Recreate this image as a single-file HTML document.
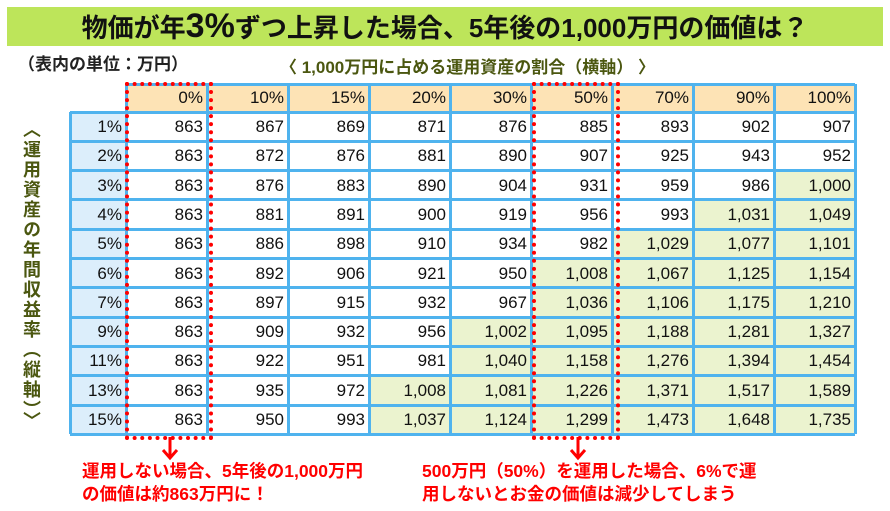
<!DOCTYPE html>
<html><head><meta charset="utf-8">
<style>
body{margin:0;width:890px;height:511px;background:#fff;overflow:hidden;font-family:"Liberation Sans","Noto Sans CJK JP",sans-serif;position:relative}
.abs{position:absolute}
#title{left:7px;top:7px;width:876px;height:39px;background:#bde55a;font-weight:bold;font-size:26px;line-height:39px;text-align:center;color:#111;white-space:nowrap}
#title b{font-size:34px}
.cell{position:absolute;box-sizing:border-box;text-align:right;padding-right:4px;font-size:17px;color:#111;line-height:26px}
.vl{position:absolute;background:#4fb3ee}
.ann{color:#f00;font-weight:bold;font-size:17.5px;line-height:23px;white-space:nowrap}
</style></head><body>
<div id="title" class="abs">物価が年<b>3%</b>ずつ上昇した場合、5年後の1,000万円の価値は？</div>
<div class="abs" style="left:18px;top:50px;font-size:17px;font-weight:bold;color:#222">（表内の単位：万円）</div>
<div class="abs" style="left:280px;top:53px;font-size:17px;font-weight:bold;color:#4b5710;white-space:nowrap">〈 1,000万円に占める運用資産の割合（横軸） 〉</div>
<div class="abs" style="left:20px;top:120px;width:22px;font-size:18px;font-weight:bold;color:#4b5710;line-height:22px;letter-spacing:2px;writing-mode:vertical-rl">〈運用資産の年間収益率（縦軸）〉</div>
<div id="tbl" class="abs" style="left:0;top:0"></div>
<div class="abs" style="left:125px;top:82px;width:80px;height:350px;border:4px dotted #f00"></div>
<div class="abs" style="left:532px;top:82px;width:80px;height:350px;border:4px dotted #f00"></div>
<svg class="abs" style="left:0;top:0" width="890" height="511">
<path d="M170 437V457M163 450L170 458L177 450" stroke="#f00" stroke-width="3" fill="none"/>
<path d="M578 437V457M571 450L578 458L585 450" stroke="#f00" stroke-width="3" fill="none"/>
</svg>
<div class="abs ann" style="left:82px;top:460px">運用しない場合、5年後の1,000万円<br>の価値は約863万円に！</div>
<div class="abs ann" style="left:422px;top:460px">500万円（50%）を運用した場合、6%で運<br>用しないとお金の価値は減少してしまう</div>
<script>
const colLabels=["0%","10%","15%","20%","30%","50%","70%","90%","100%"];
const rowLabels=["1%","2%","3%","4%","5%","6%","7%","9%","11%","13%","15%"];
const values=[
[863,867,869,871,876,885,893,902,907],
[863,872,876,881,890,907,925,943,952],
[863,876,883,890,904,931,959,986,1000],
[863,881,891,900,919,956,993,1031,1049],
[863,886,898,910,934,982,1029,1077,1101],
[863,892,906,921,950,1008,1067,1125,1154],
[863,897,915,932,967,1036,1106,1175,1210],
[863,909,932,956,1002,1095,1188,1281,1327],
[863,922,951,981,1040,1158,1276,1394,1454],
[863,935,972,1008,1081,1226,1371,1517,1589],
[863,950,993,1037,1124,1299,1473,1648,1735]];
const tbl=document.getElementById('tbl');
const X0=126,CW=81,Y0=84,HH=28,RH=29.3,RX=70;
function mk(x,y,w,h,bg,txt,name){const d=document.createElement('div');d.className='cell';


d.style.left=x+'px';d.style.top=y+'px';d.style.width=w+'px';d.style.height=h+'px';d.style.background=bg;d.style.lineHeight=h+'px';d.textContent=txt;tbl.appendChild(d);}
colLabels.forEach((c,j)=>mk(X0+j*CW,Y0,CW,HH,'#fde3b5',c,'col-header'));
rowLabels.forEach((r,i)=>{const y=Y0+HH+i*RH;mk(RX,y,X0-RX,RH,'#dceefb',r,'row-header');
values[i].forEach((v,j)=>mk(X0+j*CW,y,CW,RH,v>=1000?'#ebf3cf':'#fff',v.toLocaleString('en-US'),'value-cell'));});
const bottom=Y0+HH+rowLabels.length*RH;
function line(x,y,w,h){const d=document.createElement('div');d.className='vl';


d.style.left=x+'px';d.style.top=y+'px';d.style.width=w+'px';d.style.height=h+'px';tbl.appendChild(d);}
for(let j=0;j<=colLabels.length;j++)line(X0+j*CW-1.5,Y0,3,bottom-Y0);
line(RX-1.5,Y0+HH,3,bottom-Y0-HH);
line(X0,Y0-1.5,colLabels.length*CW,3);
for(let i=0;i<=rowLabels.length;i++)line(RX,Y0+HH+i*RH-1.5,X0-RX+colLabels.length*CW,3);
</script>
</body></html>
